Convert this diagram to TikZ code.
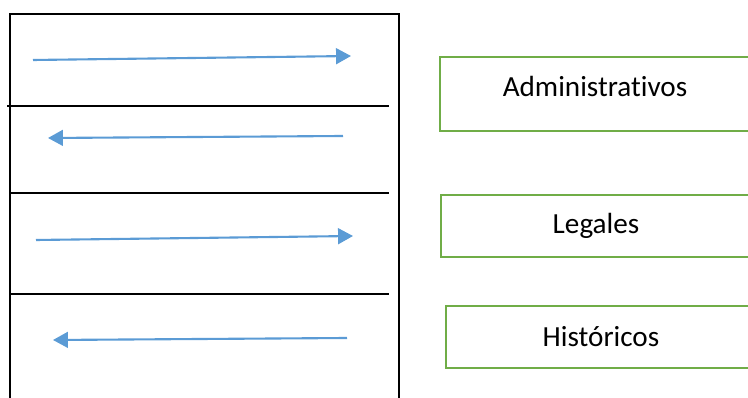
\documentclass[tikz,border=0pt]{standalone}
\usepackage{fontspec}
\setmainfont{Carlito}[Ligatures=CommonOff]
\usetikzlibrary{arrows.meta}
\definecolor{flowblue}{HTML}{5B9BD5}
\definecolor{boxgreen}{HTML}{70AD47}
\tikzstyle{typebox}=[draw=boxgreen,line width=1.2pt,minimum width=6.2cm,inner sep=0pt,font=\fontsize{16.6}{19}\selectfont]
\tikzstyle{flow}=[draw=flowblue,line width=1.2pt,-{Triangle[length=8.5pt,width=9pt]}]
\tikzstyle{frame}=[line width=1.2pt]

\begin{document}
\begin{tikzpicture}[x=0.02cm,y=-0.02cm]
    \useasboundingbox (0,0) rectangle (748,398);
    \draw[frame] (10,400) -- (10,14) -- (399,14) -- (399,400);
    \draw[frame] (7,106) -- (389,106);
    \draw[frame] (10,193) -- (389,193);
    \draw[frame] (10,294) -- (389,294);

    \coordinate (r1a) at (33,60);
    \coordinate (r1b) at (351,56);
    \coordinate (l1a) at (343,136);
    \coordinate (l1b) at (48,138);
    \coordinate (r2a) at (36,240);
    \coordinate (r2b) at (353,236);
    \coordinate (l2a) at (347,338);
    \coordinate (l2b) at (53,340);

    \foreach \from/\to in {r1a/r1b,l1a/l1b,r2a/r2b,l2a/l2b}
    \draw[flow] (\from) -- (\to);

    \node[typebox,minimum height=1.48cm,text depth=0.3cm] (admin) at (595,94) {Administrativos};
    \node[typebox,minimum height=1.24cm] (legal) at (596,226) {Legales};
    \node[typebox,minimum height=1.24cm] (hist) at (601,337) {Históricos};
\end{tikzpicture}
\end{document}
